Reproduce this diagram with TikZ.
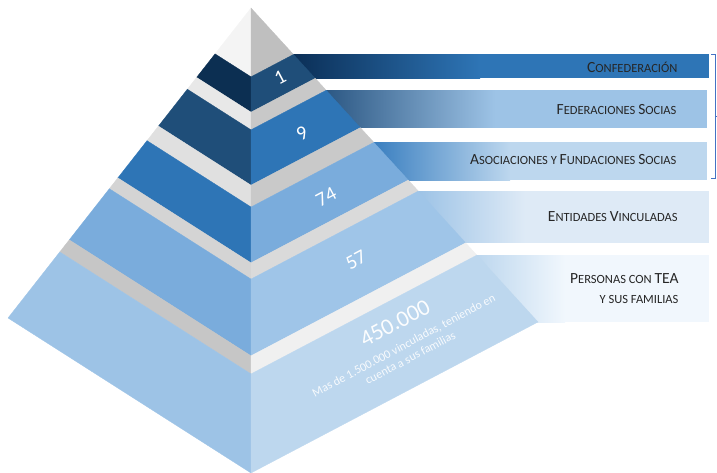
\documentclass[tikz,border=0pt]{standalone}
\usepackage{fontspec}
\setmainfont{Carlito}
\usetikzlibrary{calc}
\definecolor{capl}{HTML}{F4F4F4}
\definecolor{capr}{HTML}{BFBFBF}
\definecolor{navy}{HTML}{0C2F52}
\definecolor{dblue}{HTML}{1F4E79}
\definecolor{mblue}{HTML}{2E75B6}
\definecolor{lblue}{HTML}{7AACDC}
\definecolor{pblue}{HTML}{9FC5E8}
\definecolor{qblue}{HTML}{9DC3E6}
\definecolor{sblue}{HTML}{BDD7EE}
\definecolor{g1l}{HTML}{E8E8E8}
\definecolor{g1r}{HTML}{C8C8C8}
\definecolor{g2l}{HTML}{E0E0E0}
\definecolor{g2r}{HTML}{C9C9C9}
\definecolor{g3l}{HTML}{D4D4D4}
\definecolor{g3r}{HTML}{DADADA}
\definecolor{g4l}{HTML}{C6C6C6}
\definecolor{g4r}{HTML}{F0F0F0}
\definecolor{bara}{HTML}{0B2F57}
\definecolor{barb}{HTML}{2C5884}
\definecolor{barc}{HTML}{3A7FC0}
\definecolor{bard}{HTML}{DEEAF6}
\definecolor{bare}{HTML}{F1F7FD}
\definecolor{txt}{HTML}{262626}
\definecolor{brk}{HTML}{4472C4}
\newcommand\uc[1]{{\fontsize{15.5}{18}\selectfont #1}}
\tikzset{
  lbl/.style={anchor=east,text=txt,align=right,font=\fontsize{12.5}{20}\selectfont},
  num/.style={text=white,rotate=28,font=\fontsize{20}{24}\selectfont},
}
\begin{document}
\begin{tikzpicture}[x=1pt,y=-1pt]
    \useasboundingbox (0,0) rectangle (717,473);
    \coordinate (A) at (251,8);
    \coordinate (L) at (8,318);
    \coordinate (B) at (251,473);
    \coordinate (R) at (538,322);
    \foreach \ta/\tb/\ca/\cb/\xg/\xr in {0.148/0.224/bara/mblue/480/709,
        0.262/0.381/barb/qblue/495/707, 0.428/0.548/barc/sblue/510/707,
        0.583/0.748/qblue/bard/525/709, 0.787/1/sblue/bare/565/709} {
        \pgfmathsetmacro\xa{251+\ta*287}
        \pgfmathsetmacro\ya{8+\ta*314}
        \pgfmathsetmacro\yb{8+\tb*314}
        \shade[left color=\ca,right color=\cb] (\xa,\ya) rectangle (\xg,\yb);
        \fill[\cb] (\xg-0.5,\ya) rectangle (\xr,\yb);
    }
    \foreach \ta/\tb/\lc/\rc in {0/0.148/capl/capr, 0.148/0.224/navy/dblue,
        0.224/0.262/g1l/g1r, 0.262/0.381/dblue/mblue, 0.381/0.428/g2l/g2r,
        0.428/0.548/mblue/lblue, 0.548/0.583/g3l/g3r, 0.583/0.748/lblue/pblue,
        0.748/0.787/g4l/g4r, 0.787/1/qblue/sblue} {
        \filldraw[fill=\lc,draw=\lc,line width=0.3pt] ($(A)!\ta!(L)$) -- ($(A)!\ta!(B)$)
            -- ($(A)!\tb!(B)$) -- ($(A)!\tb!(L)$) -- cycle;
        \filldraw[fill=\rc,draw=\rc,line width=0.3pt] ($(A)!\ta!(B)$) -- ($(A)!\ta!(R)$)
            -- ($(A)!\tb!(R)$) -- ($(A)!\tb!(B)$) -- cycle;
    }
    \node[num] (n1) at (280,77) {1};
    \node[num] (n9) at (302,133) {9};
    \node[num] (n74) at (326,197) {74};
    \node[num] (n57) at (356,260) {57};
    \node[num,text=white!95!sblue,font=\fontsize{23}{26}\selectfont] (n450) at (395,323) {450.000};
    \node[rotate=28,text=white!88!sblue,align=center,font=\fontsize{12}{14}\selectfont,inner sep=1pt] (vinc) at (407,351.5)
        {Mas de 1.500.000 vinculadas, teniendo en\\cuenta a sus familias};
    \node[lbl] (conf) at (681,67) {\uc{C}ONFEDERACIÓN};
    \node[lbl] (fed) at (680,110) {\uc{F}EDERACIONES \uc{S}OCIAS};
    \node[lbl] (asoc) at (680,160) {\uc{A}SOCIACIONES Y \uc{F}UNDACIONES \uc{S}OCIAS};
    \node[lbl] (ent) at (681,217) {\uc{E}NTIDADES \uc{V}INCULADAS};
    \node[lbl] (pers) at (682,289) {\uc{P}ERSONAS CON \uc{TEA}\\Y SUS FAMILIAS};
    \draw[brk,line width=0.8pt] (711,54.5) -- (715,54.5) -- (715,178.5) -- (711,178.5);
    \draw[brk,line width=0.8pt] (715,116.5) -- (717,116.5);
\end{tikzpicture}
\end{document}
